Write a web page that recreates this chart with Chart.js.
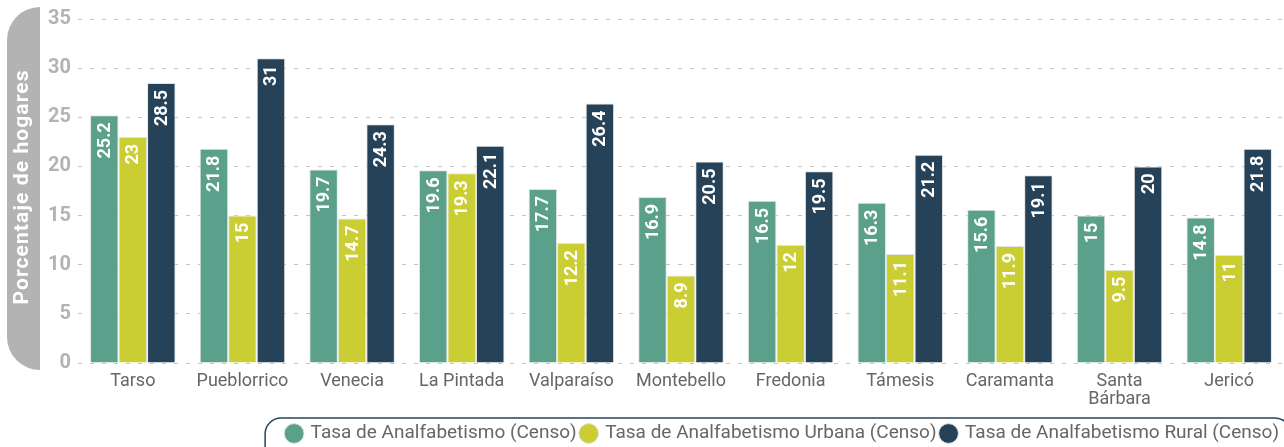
<!DOCTYPE html>
<html>
<head>
<meta charset="utf-8">
<script src="https://cdn.jsdelivr.net/npm/chart.js@4"></script>
<style>
  html, body { margin: 0; padding: 0; background: #fff; }
  #wrap { width: 1284px; height: 447px; }
</style>
</head>
<body>
<div id="wrap"><canvas id="analfabetismoChart"></canvas></div>
<script>
const municipios = ['Tarso', 'Pueblorrico', 'Venecia', 'La Pintada', 'Valparaíso', 'Montebello',
  'Fredonia', 'Támesis', 'Caramanta', ['Santa', 'Bárbara'], 'Jericó'];
const tasaTotal = [25.2, 21.8, 19.7, 19.6, 17.7, 16.9, 16.5, 16.3, 15.6, 15, 14.8];
const tasaUrbana = [23, 15, 14.7, 19.3, 12.2, 8.9, 12, 11.1, 11.9, 9.5, 11];
const tasaRural = [28.5, 31, 24.3, 22.1, 26.4, 20.5, 19.5, 21.2, 19.1, 20, 21.8];
const yMax = 35;
const yStep = 5;
const tituloY = 'Porcentaje de hogares';

// caja gris redondeada con el título del eje Y
const tituloCaja = {
  id: 'tituloCaja',
  beforeDraw(chart) {
    const c = chart.ctx;
    const area = chart.chartArea;
    c.save();
    c.fillStyle = '#b3b3b3';
    c.beginPath();
    c.roundRect(7, 7, 33, area.bottom, [33, 0, 0, 33]);
    c.fill();
    c.fillStyle = '#fff';
    c.font = 'bold 21px Roboto';
    c.letterSpacing = '1.1px';
    c.textAlign = 'center';
    c.textBaseline = 'alphabetic';
    c.translate(28, (area.top + area.bottom) / 2 - 4);
    c.rotate(-Math.PI / 2);
    c.fillText(tituloY, 0, 0);
    c.restore();
  }
};

// etiquetas verticales dentro de cada barra
const etiquetasBarras = {
  id: 'etiquetasBarras',
  afterDatasetsDraw(chart) {
    const c = chart.ctx;
    c.save();
    c.fillStyle = '#fff';
    c.font = 'bold 18px Roboto';
    c.textAlign = 'right';
    c.textBaseline = 'middle';
    chart.data.datasets.forEach((ds, i) => {
      chart.getDatasetMeta(i).data.forEach((bar, j) => {
        c.save();
        c.translate(bar.x, bar.y + 7);
        c.rotate(-Math.PI / 2);
        c.fillText(String(ds.data[j]), 0, 1);
        c.restore();
      });
    });
    c.restore();
  }
};

// marco redondeado de la leyenda
const marcoLeyenda = {
  id: 'marcoLeyenda',
  afterDraw(chart) {
    const boxes = chart.legend.legendHitBoxes;
    if (!boxes || !boxes.length) return;
    const c = chart.ctx;
    const first = boxes[0], last = boxes[boxes.length - 1];
    const x0 = first.left - 22, x1 = last.left + last.width + 12;
    const y0 = first.top - 6;
    c.save();
    c.strokeStyle = '#27435a';
    c.lineWidth = 1.5;
    c.beginPath();
    c.roundRect(x0, y0, x1 - x0, 60, 16);
    c.stroke();
    c.restore();
  }
};

const ctx = document.getElementById('analfabetismoChart').getContext('2d');
new Chart(ctx, {
  type: 'bar',
  data: {
    labels: municipios,
    datasets: [
      { label: 'Tasa de Analfabetismo (Censo)', data: tasaTotal, backgroundColor: '#5aa08a' },
      { label: 'Tasa de Analfabetismo Urbana (Censo)', data: tasaUrbana, backgroundColor: '#cbce32' },
      { label: 'Tasa de Analfabetismo Rural (Censo)', data: tasaRural, backgroundColor: '#264258' }
    ]
  },
  options: {
    responsive: true,
    maintainAspectRatio: false,
    animation: false,
    layout: { padding: { top: 18, right: 0, bottom: -6, left: 0 } },
    datasets: {
      bar: {
        borderColor: '#e4e4e4',
        borderWidth: 1,
        categoryPercentage: 0.78,
        barPercentage: 1
      }
    },
    plugins: {
      legend: {
        position: 'bottom',
        align: 'end',
        labels: {
          usePointStyle: true,
          pointStyle: 'circle',
          boxWidth: 14,
          boxHeight: 14,
          color: '#666',
          padding: 5,
          font: { family: 'Roboto', size: 19 }
        }
      },
      tooltip: { enabled: false }
    },
    scales: {
      x: {
        afterFit(scale) { scale.height = 56; },
        grid: { display: false, drawTicks: false },
        border: { display: false },
        ticks: {
          color: '#666',
          font: { family: 'Roboto', size: 18, lineHeight: 1 },
          padding: 9,
          maxRotation: 0
        }
      },
      y: {
        min: 0,
        max: yMax,
        afterFit(scale) { scale.width = 78; },
        border: { display: false, dash: [4, 8] },
        grid: { color: '#c4c4c4', drawTicks: false },
        ticks: {
          stepSize: yStep,
          color: '#b3b3b3',
          padding: 7,
          font: { family: 'Roboto', size: 20, weight: 'bold' }
        }
      }
    }
  },
  plugins: [tituloCaja, etiquetasBarras, marcoLeyenda]
});
</script>
</body>
</html>
